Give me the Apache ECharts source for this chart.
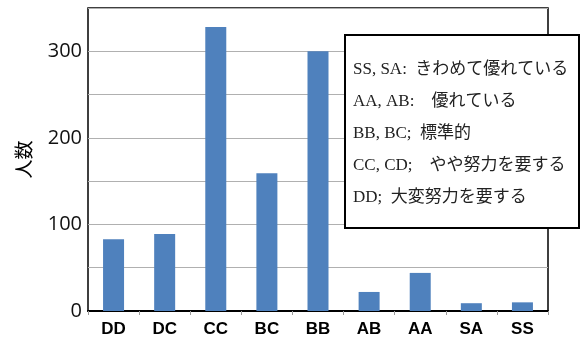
<!DOCTYPE html>
<html>
<head>
<meta charset="utf-8">
<script src="https://cdn.jsdelivr.net/npm/echarts@6/dist/echarts.min.js"></script>
<style>
html,body{margin:0;padding:0;background:#fff;}
#chart{width:582px;height:340px;}
</style>
</head>
<body>
<div id="chart"></div>
<script>
// Grade distribution: number of people per evaluation grade
const categories = ['DD', 'DC', 'CC', 'BC', 'BB', 'AB', 'AA', 'SA', 'SS'];
const counts = [83, 89, 328, 159, 300, 22, 44, 9, 10];
const yTicks = [0, 100, 200, 300];
const yTitle = '人数';
const legendLines = [
  'SS, SA:  きわめて優れている',
  'AA, AB:    優れている',
  'BB, BC;  標準的',
  'CC, CD;    やや努力を要する',
  'DD;  大変努力を要する'
];

const chart = echarts.init(document.getElementById('chart'));

const G = { left: 88, top: 8, right: 34, bottom: 29 };

const legendText = legendLines.map((t, i) => ({
  type: 'text',
  left: 353,
  top: 61 + i * 32,
  z: 11,
  style: {
    text: t,
    font: '17px "Liberation Serif", "Noto Sans CJK JP", serif',
    fill: '#222'
  }
}));

chart.setOption({
  animation: false,
  grid: { left: G.left, top: G.top, right: G.right, bottom: G.bottom, show: true, borderColor: '#000', borderWidth: 1.5, backgroundColor: 'transparent' },
  xAxis: {
    type: 'category',
    data: categories,
    axisLine: { lineStyle: { color: '#000', width: 2 } },
    axisTick: { show: true, length: 4, lineStyle: { color: '#999' } },
    axisLabel: { color: '#000', fontFamily: '"Liberation Sans", Arial, sans-serif', fontWeight: 'bold', fontSize: 17, margin: 10 }
  },
  yAxis: {
    type: 'value',
    min: 0,
    max: 350,
    interval: 50,
    name: yTitle,
    nameLocation: 'middle',
    nameGap: 55,
    nameRotate: 90,
    nameTextStyle: { color: '#000', fontSize: 19, fontFamily: '"Noto Sans CJK JP", sans-serif' },
    axisLine: { show: false },
    axisTick: { show: false },
    splitLine: { lineStyle: { color: '#b0b0b0', width: 1 } },
    axisLabel: {
      color: '#111',
      fontSize: 20,
      fontFamily: '"Open Sans", "DejaVu Sans", sans-serif',
      margin: 6,
      formatter: v => (yTicks.indexOf(v) >= 0 ? String(v) : '')
    }
  },
  series: [{
    type: 'bar',
    data: counts,
    barWidth: 21,
    itemStyle: { color: '#4f81bd' }
  }],
  graphic: [{
    type: 'rect',
    left: 344,
    top: 34,
    z: 10,
    shape: { width: 234, height: 193 },
    style: { fill: '#fff', stroke: '#000', lineWidth: 2 }
  }].concat(legendText)
});
</script>
</body>
</html>
